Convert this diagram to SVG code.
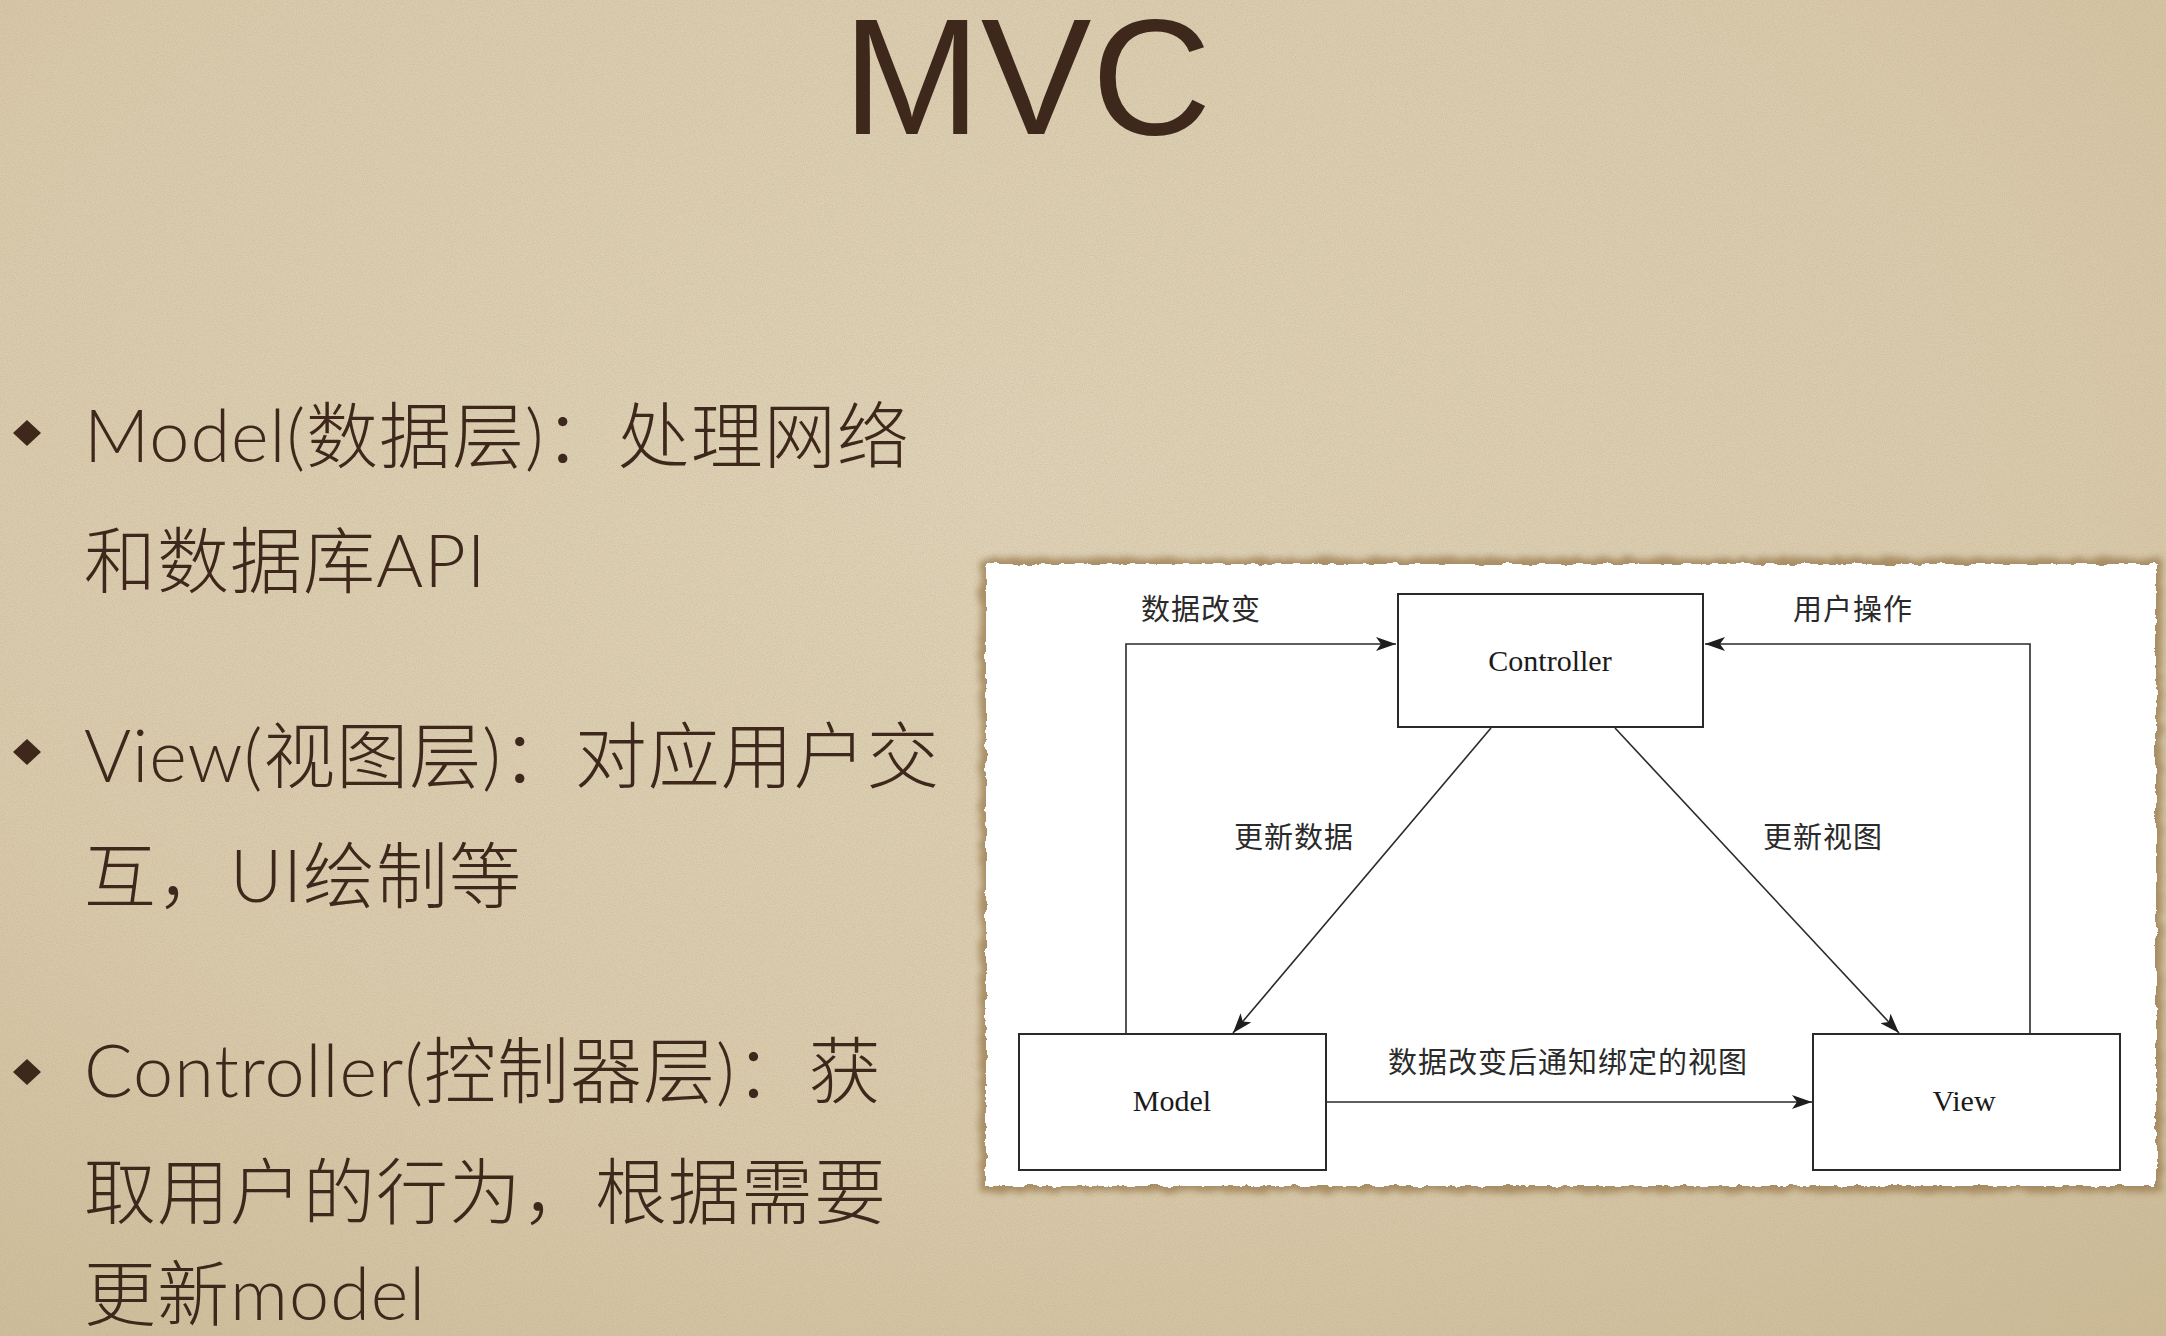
<svg xmlns="http://www.w3.org/2000/svg" width="2166" height="1336" viewBox="0 0 2166 1336">
  <defs>
    <radialGradient id="paper" cx="0.45" cy="0.35" r="0.85">
      <stop offset="0" stop-color="#e0d3b8"/>
      <stop offset="0.6" stop-color="#dacbad"/>
      <stop offset="1" stop-color="#cdbb97"/>
    </radialGradient>
    <filter id="grain" x="0" y="0" width="100%" height="100%">
      <feTurbulence type="fractalNoise" baseFrequency="0.9" numOctaves="2" seed="3" result="n"/>
      <feColorMatrix in="n" type="matrix" values="0 0 0 0 0.45  0 0 0 0 0.36  0 0 0 0 0.22  0 0 0 -1.1 0.75" result="c"/>
      <feComposite in="c" in2="SourceGraphic" operator="in"/>
    </filter>
    <filter id="torn" x="-2%" y="-3%" width="104%" height="106%">
      <feTurbulence type="fractalNoise" baseFrequency="0.08" numOctaves="3" seed="7" result="t"/>
      <feDisplacementMap in="SourceGraphic" in2="t" scale="7" xChannelSelector="R" yChannelSelector="G"/>
    </filter>
    <filter id="rim" x="-3%" y="-5%" width="106%" height="110%">
      <feTurbulence type="fractalNoise" baseFrequency="0.08" numOctaves="3" seed="7" result="t"/>
      <feDisplacementMap in="SourceGraphic" in2="t" scale="8" xChannelSelector="R" yChannelSelector="G" result="d"/>
      <feGaussianBlur in="d" stdDeviation="3"/>
    </filter>
    <marker id="arrow" viewBox="0 0 20 14" refX="20" refY="7" markerWidth="20" markerHeight="14" markerUnits="userSpaceOnUse" orient="auto">
      <path d="M0,0 L20,7 L0,14 L5,7 Z" fill="#1e1e1e"/>
    </marker>
    <style>
      .slide { font-family: "Liberation Sans", "Noto Sans CJK SC", sans-serif; fill: #3e281c; }
      .title { font-size: 166px; }
      .bullet-text { font-family: "Lato", "Noto Sans CJK SC", sans-serif; font-size: 72px; font-weight: 300; letter-spacing: 1px; }
      .dot { fill: #3e281c; }
      .box { fill: #ffffff; stroke: #2a2a2a; stroke-width: 2; }
      .name { font-family: "Liberation Serif", "Noto Sans CJK SC", serif; font-size: 30px; fill: #1a1a1a; text-anchor: middle; }
      .label { font-family: "Liberation Serif", "Noto Sans CJK SC", serif; font-size: 29px; fill: #2a2a2a; text-anchor: middle; letter-spacing: 1px; }
      .edge { fill: none; stroke: #2a2a2a; stroke-width: 1.6; marker-end: url(#arrow); }
    </style>
  </defs>

  <!-- parchment background -->
  <rect width="2166" height="1336" fill="url(#paper)"/>
  <rect width="2166" height="1336" fill="#ffffff" filter="url(#grain)" opacity="0.5"/>

  <!-- title -->
  <text class="slide title" x="1027" y="134" text-anchor="middle">MVC</text>

  <!-- bullet list -->
  <g id="bullets">
    <polygon class="dot" points="27,420 41,433 27,446 13,433"/>
    <text class="slide bullet-text" x="84" y="462">Model(数据层)：处理网络</text>
    <text class="slide bullet-text" x="84" y="587">和数据库API</text>

    <polygon class="dot" points="27,739 41,752 27,765 13,752"/>
    <text class="slide bullet-text" x="84" y="782">View(视图层)：对应用户交</text>
    <text class="slide bullet-text" x="84" y="902">互，UI绘制等</text>

    <polygon class="dot" points="27,1059 41,1072 27,1085 13,1072"/>
    <text class="slide bullet-text" x="84" y="1097">Controller(控制器层)：获</text>
    <text class="slide bullet-text" x="84" y="1218">取用户的行为，根据需要</text>
    <text class="slide bullet-text" x="84" y="1320">更新model</text>
  </g>

  <!-- torn paper card holding the diagram -->
  <rect x="980" y="558" width="1182" height="634" fill="#9a7c50" opacity="0.75" filter="url(#rim)"/>
  <rect x="986" y="564" width="1170" height="622" fill="#ffffff" filter="url(#torn)"/>

  <!-- connectors -->
  <g id="connectors">
    <polyline class="edge" points="1126,1034 1126,644 1396,644"/>
    <polyline class="edge" points="2030,1034 2030,644 1705,644"/>
    <line class="edge" x1="1491" y1="728" x2="1233" y2="1033"/>
    <line class="edge" x1="1615" y1="728" x2="1899" y2="1033"/>
    <line class="edge" x1="1326" y1="1102" x2="1812" y2="1102"/>
    <text class="label" x="1201" y="620">数据改变</text>
    <text class="label" x="1853" y="620">用户操作</text>
    <text class="label" x="1294" y="848">更新数据</text>
    <text class="label" x="1823" y="848">更新视图</text>
    <text class="label" x="1568" y="1073">数据改变后通知绑定的视图</text>
  </g>

  <!-- nodes -->
  <g id="controller">
    <rect class="box" x="1398" y="594" width="305" height="133"/>
    <text class="name" x="1550" y="671">Controller</text>
  </g>
  <g id="model">
    <rect class="box" x="1019" y="1034" width="307" height="136"/>
    <text class="name" x="1172" y="1111">Model</text>
  </g>
  <g id="view">
    <rect class="box" x="1813" y="1034" width="307" height="136"/>
    <text class="name" x="1964" y="1111">View</text>
  </g>
</svg>
